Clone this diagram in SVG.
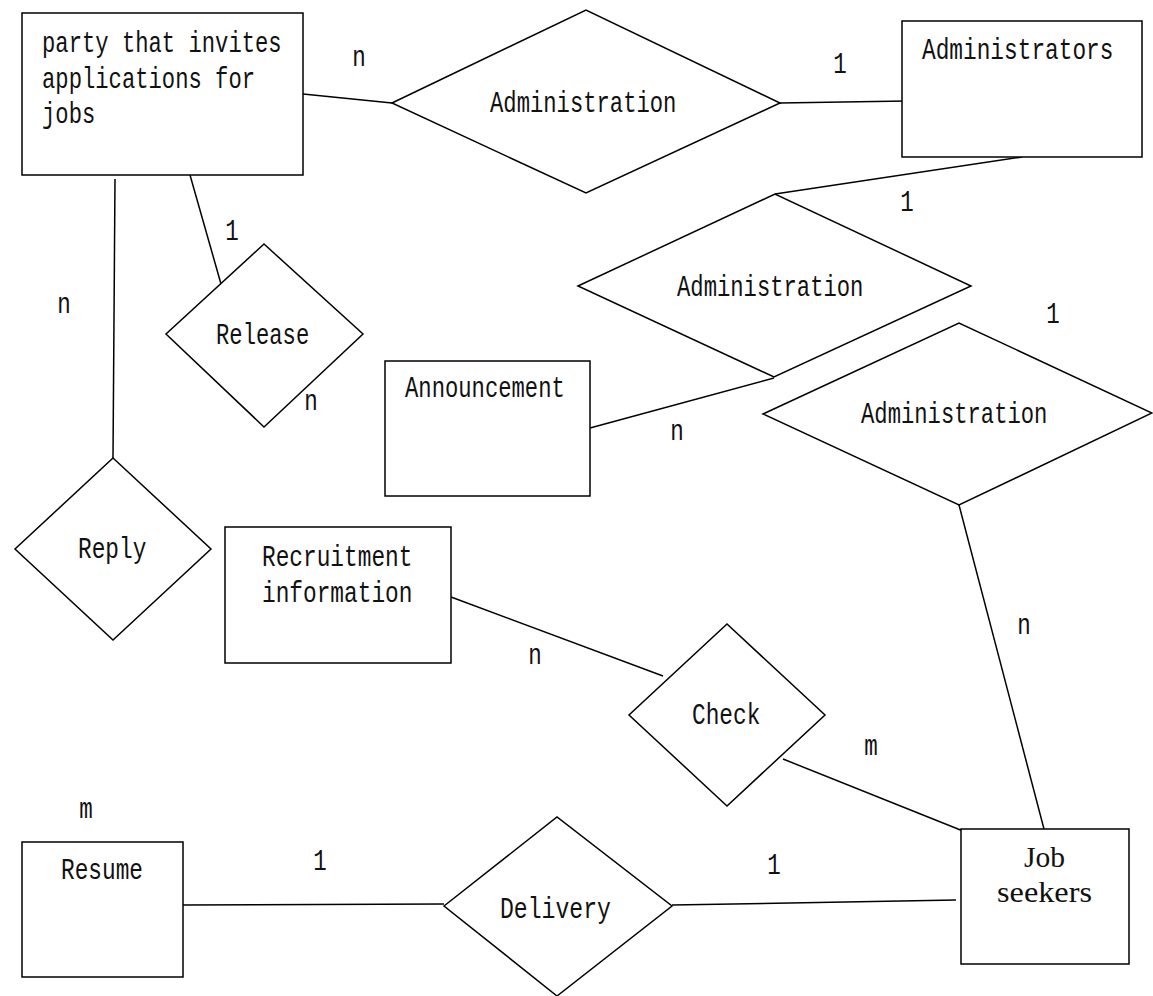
<svg xmlns="http://www.w3.org/2000/svg" width="1153" height="996" viewBox="0 0 1153 996">
<style>
.s{fill:#fff;stroke:#000;stroke-width:1.5}
.c line{stroke:#000;stroke-width:1.5}
text{font-family:"Liberation Mono","DejaVu Sans Mono",monospace;font-size:30px;fill:#111}
.m{text-anchor:middle}
.sf{font-family:"Liberation Serif","Times New Roman",serif;font-size:29px}
</style>
<rect width="1153" height="996" fill="#fff"/>
<g class="c" id="connectors">
<line x1="303" y1="94" x2="392" y2="103"/>
<line x1="780" y1="103" x2="906" y2="101"/>
<line x1="1022" y1="157" x2="775" y2="194"/>
<line x1="774" y1="378" x2="590" y2="428"/>
<line x1="959" y1="505" x2="1044" y2="829"/>
<line x1="190" y1="175" x2="221" y2="284"/>
<line x1="115" y1="179" x2="113" y2="458"/>
<line x1="451" y1="597" x2="663" y2="676"/>
<line x1="783" y1="759" x2="963" y2="831"/>
<line x1="183" y1="905" x2="444" y2="904"/>
<line x1="672" y1="905" x2="956" y2="900"/>
<text class="m" transform="translate(359,66) scale(0.75,1)">n</text>
<text class="m" transform="translate(840,73) scale(0.75,1)">1</text>
<text class="m" transform="translate(907,211) scale(0.75,1)">1</text>
<text class="m" transform="translate(677,440) scale(0.75,1)">n</text>
<text class="m" transform="translate(1053,323) scale(0.75,1)">1</text>
<text class="m" transform="translate(1024,634) scale(0.75,1)">n</text>
<text class="m" transform="translate(232,240) scale(0.75,1)">1</text>
<text class="m" transform="translate(311,410) scale(0.75,1)">n</text>
<text class="m" transform="translate(64,313) scale(0.75,1)">n</text>
<text class="m" transform="translate(535,664) scale(0.75,1)">n</text>
<text class="m" transform="translate(871,755) scale(0.75,1)">m</text>
<text class="m" transform="translate(86,818) scale(0.75,1)">m</text>
<text class="m" transform="translate(320,870) scale(0.75,1)">1</text>
<text class="m" transform="translate(774,874) scale(0.75,1)">1</text>
</g>
<g id="party">
<rect class="s" x="22" y="13" width="281" height="162"/>
<text transform="translate(42,52) scale(0.74,1)">party that invites</text>
<text transform="translate(42,88) scale(0.74,1)">applications for</text>
<text transform="translate(42,123) scale(0.74,1)">jobs</text>
</g>
<g id="administration1">
<polygon class="s" points="392,103 586,10 780,103 586,193"/>
<text transform="translate(490,112) scale(0.74,1)">Administration</text>
</g>
<g id="administrators">
<rect class="s" x="902" y="21" width="240" height="136"/>
<text transform="translate(922,59) scale(0.76,1)">Administrators</text>
</g>
<g id="administration2">
<polygon class="s" points="578,286 775,194 971,286 774,377"/>
<text transform="translate(677,296) scale(0.74,1)">Administration</text>
</g>
<g id="announcement">
<rect class="s" x="385" y="361" width="205" height="135"/>
<text transform="translate(405,397) scale(0.74,1)">Announcement</text>
</g>
<g id="administration3">
<polygon class="s" points="763,414 959,323 1152,413 959,505"/>
<text transform="translate(861,423) scale(0.74,1)">Administration</text>
</g>
<g id="release">
<polygon class="s" points="264,244 363,334 264,427 166,334"/>
<text transform="translate(216,344) scale(0.74,1)">Release</text>
</g>
<g id="reply">
<polygon class="s" points="113,458 211,549 113,640 15,549"/>
<text transform="translate(78,558) scale(0.76,1)">Reply</text>
</g>
<g id="recruitment">
<rect class="s" x="225" y="527" width="226" height="136"/>
<text transform="translate(262,566) scale(0.76,1)">Recruitment</text>
<text transform="translate(262,602) scale(0.76,1)">information</text>
</g>
<g id="check">
<polygon class="s" points="727,624 825,715 727,806 629,715"/>
<text transform="translate(692,724) scale(0.76,1)">Check</text>
</g>
<g id="resume">
<rect class="s" x="22" y="842" width="161" height="135"/>
<text transform="translate(61,879) scale(0.76,1)">Resume</text>
</g>
<g id="delivery">
<polygon class="s" points="444,906 557,817 672,906 557,996"/>
<text transform="translate(500,918) scale(0.77,1)">Delivery</text>
</g>
<g id="jobseekers">
<rect class="s" x="961" y="829" width="168" height="135"/>
<text class="sf" x="1024" y="867" textLength="41" lengthAdjust="spacingAndGlyphs">Job</text>
<text class="sf" x="997" y="902" textLength="95" lengthAdjust="spacingAndGlyphs">seekers</text>
</g>
</svg>
